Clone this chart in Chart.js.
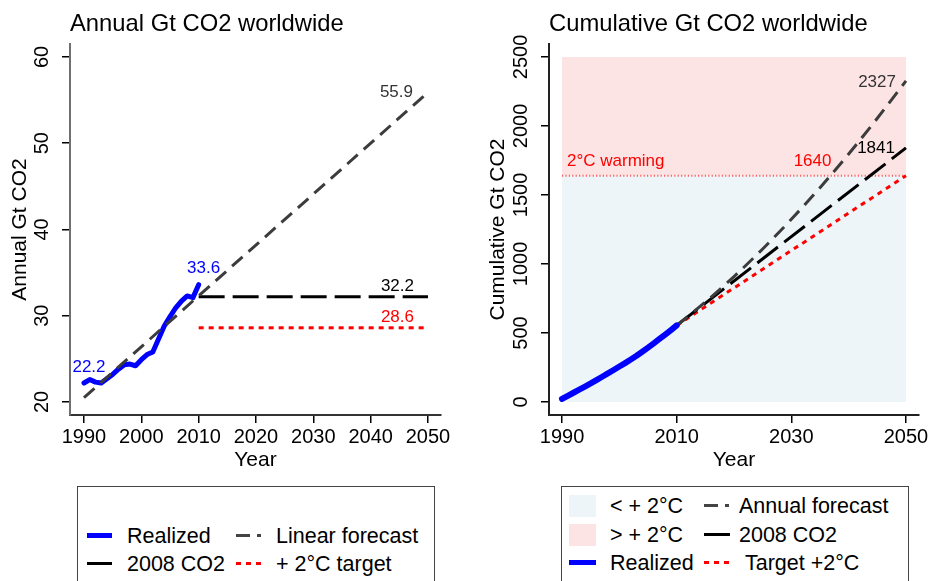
<!DOCTYPE html>
<html>
<head>
    <title>Annual and cumulative Gt CO2 worldwide</title>
    <script src="https://cdn.jsdelivr.net/npm/chart.js"></script>
    <style>
        body {
            margin: 0;
            width: 932px;
            height: 581px;
            overflow: hidden;
            background: #fff;
            position: relative;
            font-family: "Liberation Sans", Arial, sans-serif;
        }
        canvas {
            position: absolute;
            top: 0;
        }
        .legend-box {
            position: absolute;
            border: 1px solid #444;
            box-sizing: border-box;
        }
        .lg-text {
            position: absolute;
            font-size: 21.5px;
            line-height: 24px;
            color: #000;
            white-space: nowrap;
        }
        .lg-sample {
            position: absolute;
        }
    </style>
</head>
<body>
    <canvas id="annualChart" width="466" height="480" style="left:0"></canvas>
    <canvas id="cumulativeChart" width="466" height="480" style="left:466px"></canvas>

    <!-- left legend -->
    <div class="legend-box" style="left:77px; top:486px; width:358px; height:120px"></div>
    <div class="lg-sample" style="left:87px; top:533px; width:25px; height:5px; background:#0000ff"></div>
    <div class="lg-text" style="left:127px; top:524px">Realized</div>
    <div class="lg-sample" style="left:87px; top:562px; width:25px; height:3px; background:#000"></div>
    <div class="lg-text" style="left:127px; top:552px">2008 CO2</div>
    <div class="lg-sample" style="left:236px; top:534px; width:26px; height:3px; background:linear-gradient(to right, #444 0 14px, transparent 14px 21px, #444 21px 25px, transparent 25px)"></div>
    <div class="lg-text" style="left:276px; top:524px">Linear forecast</div>
    <div class="lg-sample" style="left:236px; top:562px; width:26px; height:3px; background:repeating-linear-gradient(to right, #ff0000 0 5px, transparent 5px 10px)"></div>
    <div class="lg-text" style="left:276px; top:552px">+ 2°C target</div>

    <!-- right legend -->
    <div class="legend-box" style="left:561px; top:486px; width:348px; height:120px"></div>
    <div class="lg-sample" style="left:569px; top:495px; width:27px; height:22px; background:#eef5f9"></div>
    <div class="lg-text" style="left:610px; top:494px">&lt; + 2°C</div>
    <div class="lg-sample" style="left:569px; top:524px; width:27px; height:22px; background:#fde4e4"></div>
    <div class="lg-text" style="left:610px; top:523px">&gt; + 2°C</div>
    <div class="lg-sample" style="left:569px; top:560px; width:27px; height:5px; background:#0000ff"></div>
    <div class="lg-text" style="left:610px; top:551px">Realized</div>
    <div class="lg-sample" style="left:704px; top:504px; width:26px; height:3px; background:linear-gradient(to right, #444 0 14px, transparent 14px 21px, #444 21px 25px, transparent 25px)"></div>
    <div class="lg-text" style="left:739px; top:494px">Annual forecast</div>
    <div class="lg-sample" style="left:704px; top:533px; width:26px; height:3px; background:#000"></div>
    <div class="lg-text" style="left:739px; top:523px">2008 CO2</div>
    <div class="lg-sample" style="left:704px; top:561px; width:26px; height:3px; background:repeating-linear-gradient(to right, #ff0000 0 5px, transparent 5px 10px)"></div>
    <div class="lg-text" style="left:745px; top:551px">Target +2°C</div>

    <script>
        // ---- data ----
        var years = [1990, 1991, 1992, 1993, 1994, 1995, 1996, 1997, 1998, 1999, 2000,
                     2001, 2002, 2003, 2004, 2005, 2006, 2007, 2008, 2009, 2010];
        var annualRealized = [22.2, 22.6, 22.3, 22.2, 22.7, 23.2, 23.8, 24.3, 24.4, 24.2, 24.9,
                              25.5, 25.8, 27.3, 28.8, 29.9, 30.9, 31.7, 32.3, 32.1, 33.6];
        var linearYears = [1990, 2050];
        var linearForecast = [20.5, 55.9];
        var flatYears = [2010, 2050];
        var annual2008 = [32.2, 32.2];
        var annualTarget = [28.6, 28.6];

        var cumRealized = [22, 45, 67, 89, 112, 135, 159, 183, 207, 232, 257,
                           282, 308, 335, 364, 394, 425, 457, 489, 521, 555];
        var cumForecastYears = [2010, 2015, 2020, 2025, 2030, 2035, 2040, 2045, 2050];
        var cumForecast = [555, 724, 909, 1109, 1324, 1553, 1797, 2056, 2327];
        var cum2008 = [555, 1841];
        var cumTarget = [555, 1640];
        var bandYears = [1990, 2050];
        var warmingLimit = 1640;
        var bandTop = 2500;

        var annualYTicks = [20, 30, 40, 50, 60];
        var annualXTicks = [1990, 2000, 2010, 2020, 2030, 2040, 2050];
        var cumYTicks = [0, 500, 1000, 1500, 2000, 2500];
        var cumXTicks = [1990, 2010, 2030, 2050];

        function pts(xs, ys) {
            return xs.map(function (x, i) { return { x: x, y: ys[i] }; });
        }
        function last(a) { return a[a.length - 1]; }

        Chart.defaults.font.family = '"Liberation Sans", Arial, sans-serif';
        Chart.defaults.color = '#000';

        var valueLabels = {
            id: 'valueLabels',
            afterDatasetsDraw: function (chart, args, opts) {
                var ctx = chart.ctx, xs = chart.scales.x, ys = chart.scales.y;
                ctx.save();
                ctx.font = '17px "Liberation Sans", Arial, sans-serif';
                ctx.textBaseline = 'middle';
                (opts.items || []).forEach(function (it) {
                    ctx.fillStyle = it.color;
                    ctx.textAlign = it.align || 'center';
                    ctx.fillText(it.text, xs.getPixelForValue(it.x) + (it.dx || 0), ys.getPixelForValue(it.y) + (it.dy || 0));
                });
                ctx.restore();
            }
        };

        function makeOptions(cfg) {
            return {
                responsive: false,
                animation: false,
                layout: { padding: { left: 0, right: cfg.padRight, top: 0, bottom: 0 } },
                plugins: {
                    legend: { display: false },
                    tooltip: { enabled: false },
                    title: {
                        display: true,
                        text: cfg.title,
                        align: 'start',
                        fullSize: false,
                        color: '#000',
                        font: { size: 23.8, weight: 'normal' },
                        padding: { top: 9.7, bottom: 5.7 }
                    },
                    valueLabels: { items: cfg.labels }
                },
                scales: {
                    x: {
                        type: 'linear',
                        min: cfg.xMin,
                        max: cfg.xMax,
                        afterBuildTicks: function (axis) { axis.ticks = cfg.xTicks.map(function (v) { return { value: v }; }); },
                        afterFit: function (axis) { axis.height = 65; },
                        border: { display: true, color: cfg.xBorder, width: 2 },
                        grid: { drawOnChartArea: false, drawTicks: true, tickLength: 8, color: '#000', lineWidth: 1.5 },
                        ticks: { padding: 2, font: { size: 20 }, color: '#000', maxRotation: 0, callback: function (v) { return String(v); } },
                        title: { display: true, text: 'Year', color: '#000', font: { size: 21 }, padding: { top: 0, bottom: 7.4 } }
                    },
                    y: {
                        type: 'linear',
                        min: cfg.yMin,
                        max: cfg.yMax,
                        afterBuildTicks: function (axis) { axis.ticks = cfg.yTicks.map(function (v) { return { value: v }; }); },
                        afterFit: function (axis) { axis.width = cfg.yWidth; },
                        border: { display: true, color: cfg.yBorder, width: 2 },
                        grid: { drawOnChartArea: false, drawTicks: true, tickLength: 8, color: '#000', lineWidth: 1.5 },
                        ticks: { minRotation: 90, maxRotation: 90, crossAlign: 'center', padding: cfg.yTickPad, font: { size: 20 }, color: '#000', callback: function (v) { return String(v); } },
                        title: { display: true, text: cfg.yTitle, color: '#000', font: { size: 21 }, padding: { top: cfg.yTitlePad, bottom: 0 } }
                    }
                }
            };
        }

        function lineSet(data, color, width, dash, extra) {
            var ds = {
                data: data,
                borderColor: color,
                borderWidth: width,
                borderDash: dash,
                pointRadius: 0,
                fill: false,
                tension: 0,
                borderCapStyle: 'butt'
            };
            for (var k in extra) ds[k] = extra[k];
            return ds;
        }

        new Chart(document.getElementById('annualChart').getContext('2d'), {
            type: 'line',
            data: {
                datasets: [
                    lineSet(pts(linearYears, linearForecast), '#3c3c3c', 3, [14, 8]),
                    lineSet(pts(flatYears, annual2008), '#000', 3, [26, 8]),
                    lineSet(pts(flatYears, annualTarget), '#ff0000', 3, [5, 5]),
                    lineSet(pts(years, annualRealized), '#0000ff', 5, [], { borderCapStyle: 'round', borderJoinStyle: 'round' })
                ]
            },
            options: makeOptions({
                title: 'Annual Gt CO2 worldwide',
                padRight: 25,
                xMin: 1987.56, xMax: 2052.27, xTicks: annualXTicks,
                yMin: 18.49, yMax: 61.51, yTicks: annualYTicks,
                yWidth: 70, yTickPad: 8, yTitlePad: 7.4,
                yTitle: 'Annual Gt CO2',
                xBorder: '#333', yBorder: '#707070',
                labels: [
                    { text: annualRealized[0].toFixed(1), x: years[0], y: annualRealized[0], color: '#0000ff', dx: 5, dy: -15.5 },
                    { text: last(annualRealized).toFixed(1), x: last(years), y: last(annualRealized), color: '#0000ff', dx: 5, dy: -16 },
                    { text: last(linearForecast).toFixed(1), x: last(linearYears), y: last(linearForecast), color: '#333', align: 'right', dx: -15, dy: 0 },
                    { text: last(annual2008).toFixed(1), x: last(flatYears), y: last(annual2008), color: '#000', align: 'right', dx: -14, dy: -10 },
                    { text: last(annualTarget).toFixed(1), x: last(flatYears), y: last(annualTarget), color: '#ff0000', align: 'right', dx: -14, dy: -10 }
                ]
            }),
            plugins: [valueLabels]
        });

        new Chart(document.getElementById('cumulativeChart').getContext('2d'), {
            type: 'line',
            data: {
                datasets: [
                    lineSet(pts(years, cumRealized), '#0000ff', 6, [], { borderCapStyle: 'round', borderJoinStyle: 'round' }),
                    lineSet(pts(cumForecastYears, cumForecast), '#3c3c3c', 3, [14, 8], { cubicInterpolationMode: 'monotone' }),
                    lineSet(pts(flatYears, cum2008), '#000', 3, [26, 8]),
                    lineSet(pts(flatYears, cumTarget), '#ff0000', 3, [5, 5]),
                    lineSet(pts(bandYears, [warmingLimit, warmingLimit]), 'rgba(255,60,60,0.8)', 2, [1.2, 2.2]),
                    {
                        data: pts(bandYears, [warmingLimit, warmingLimit]),
                        borderWidth: 0, pointRadius: 0, fill: 'origin', backgroundColor: '#eef5f9'
                    },
                    {
                        data: pts(bandYears, [bandTop, bandTop]),
                        borderWidth: 0, pointRadius: 0, fill: '-1', backgroundColor: '#fde4e4'
                    }
                ]
            },
            options: makeOptions({
                title: 'Cumulative Gt CO2 worldwide',
                padRight: 13,
                xMin: 1987.73, xMax: 2052.27, xTicks: cumXTicks,
                yMin: -94.2, yMax: 2594.2, yTicks: cumYTicks,
                yWidth: 83, yTickPad: -3, yTitlePad: 19.4,
                yTitle: 'Cumulative Gt CO2',
                xBorder: '#222', yBorder: '#222',
                labels: [
                    { text: String(last(cumForecast)), x: last(cumForecastYears), y: last(cumForecast), color: '#333', align: 'right', dx: -10, dy: 1 },
                    { text: String(last(cum2008)), x: last(flatYears), y: last(cum2008), color: '#000', align: 'right', dx: -11, dy: 0 },
                    { text: String(warmingLimit), x: 2037, y: warmingLimit, color: '#ff0000', align: 'right', dx: 0, dy: -14 },
                    { text: '2°C warming', x: bandYears[0], y: warmingLimit, color: '#ff0000', align: 'left', dx: 5, dy: -14 }
                ]
            }),
            plugins: [valueLabels]
        });
    </script>
</body>
</html>
